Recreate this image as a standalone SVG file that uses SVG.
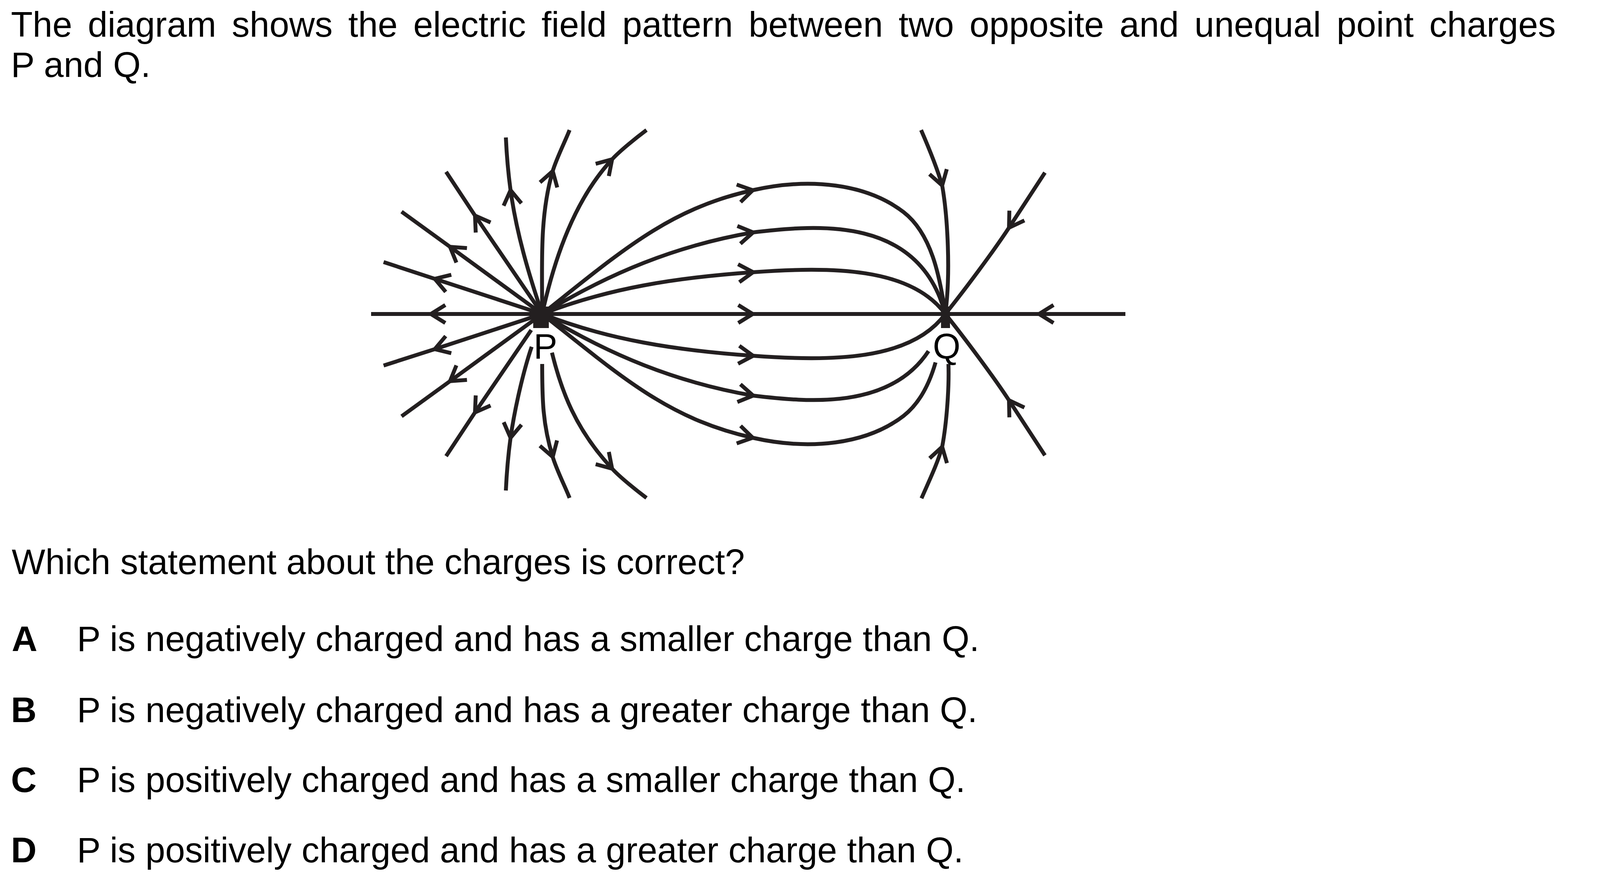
<svg xmlns="http://www.w3.org/2000/svg" width="4201" height="2261" viewBox="0 0 4201 2261">
<style>
.t{font-family:"Liberation Sans",Arial,sans-serif;font-size:91px;fill:#000}
.b{font-weight:bold}
.ln{fill:none;stroke:#231f20;stroke-width:10;stroke-linecap:butt;stroke-linejoin:round}
.a{marker-end:url(#arr)}
.chg{fill:#231f20}
</style>
<defs>
<marker id="arr" markerUnits="userSpaceOnUse" markerWidth="90" markerHeight="90" viewBox="-45 -45 90 90" refX="0" refY="0" orient="auto" overflow="visible">
<path d="M-37,-23 L0,0 L-37,23" fill="none" stroke="#231f20" stroke-width="10" stroke-linejoin="miter"/>
</marker>
</defs>
<rect width="4201" height="2261" fill="#fff"/>
<g id="question">
<text class="t" x="28" y="94" word-spacing="14.7">The diagram shows the electric field pattern between two opposite and unequal point charges</text>
<text class="t" x="28" y="197">P and Q.</text>
<text class="t" x="30" y="1470">Which statement about the charges is correct?</text>
</g>
<g id="connectors">
<path class="ln" d="M950,804 H2881"/>
<path class="ln a" d="M1150,804 L1103,804"/>
<path class="ln a" d="M1880,804 L1927,804"/>
<path class="ln a" d="M2710,804 L2660,804"/>
<path class="ln a" d="M1388,804 L1113,714"/><path class="ln" d="M1113,714 L982,671"/>
<path class="ln a" d="M1388,804 L1152,632"/><path class="ln" d="M1152,632 L1028,542"/>
<path class="ln a" d="M1388,804 L1216,552"/><path class="ln" d="M1216,552 L1142,440"/>
<path class="ln a" d="M1388,804 L1113,894"/><path class="ln" d="M1113,894 L982,936"/>
<path class="ln a" d="M1388,804 L1152,976"/><path class="ln" d="M1152,976 L1028,1066"/>
<path class="ln a" d="M1360,845 L1216,1056"/><path class="ln" d="M1216,1056 L1142,1168"/>
<path class="ln a" d="M1388,804 C1353,700 1322,596 1307,487"/><path class="ln" d="M1307,487 C1301,443 1297,396 1295,352"/>
<path class="ln a" d="M1361,888 C1340,950 1318,1044 1307,1121"/><path class="ln" d="M1307,1121 C1301,1165 1297,1212 1295,1256"/>
<path class="ln a" d="M1388,804 C1388,675 1381,553 1415,438"/><path class="ln" d="M1415,438 C1425,404 1450,355 1458,333"/>
<path class="ln a" d="M1388,932 C1388,1022 1389,1086 1415,1170"/><path class="ln" d="M1415,1170 C1425,1204 1450,1253 1458,1275"/>
<path class="ln a" d="M1388,804 C1420,658 1472,510 1567,408"/><path class="ln" d="M1567,408 C1587,386 1631,351 1655,333"/>
<path class="ln a" d="M1413,903 C1437,1000 1472,1098 1567,1200"/><path class="ln" d="M1567,1200 C1587,1222 1631,1257 1655,1275"/>
<path class="ln a" d="M1388,804 C1593,641 1712,535 1927,487"/><path class="ln" d="M1927,487 C2073,454 2218,470 2313,543 C2384,598 2406,706 2420,804"/>
<path class="ln a" d="M1388,804 C1560,699 1731,629 1928,595"/><path class="ln" d="M1928,595 C2096,575 2353,553 2420,804"/>
<path class="ln a" d="M1388,804 C1557,738 1729,711 1928,697"/><path class="ln" d="M1928,697 C2127,683 2331,683 2420,804"/>
<path class="ln a" d="M1388,804 C1557,870 1729,897 1928,911"/><path class="ln" d="M1928,911 C2127,925 2331,925 2420,804"/>
<path class="ln a" d="M1388,804 C1560,909 1731,979 1928,1013"/><path class="ln" d="M1928,1013 C2071,1030 2278,1049 2377,899"/>
<path class="ln a" d="M1388,804 C1593,967 1712,1073 1927,1121"/><path class="ln" d="M1927,1121 C2073,1154 2218,1138 2313,1065 C2354,1033 2379,984 2395,928"/>
<path class="ln a" d="M2358,333 C2378,379 2398,427 2412,475"/><path class="ln" d="M2412,475 C2426,555 2434,700 2420,804"/>
<path class="ln a" d="M2359,1276 C2379,1230 2400,1187 2412,1144"/><path class="ln" d="M2412,1144 C2424,1080 2430,990 2428,932"/>
<path class="ln a" d="M2675,442 L2583,583"/><path class="ln" d="M2583,583 C2545,641 2470,742 2420,804"/>
<path class="ln a" d="M2675,1166 L2583,1025"/><path class="ln" d="M2583,1025 C2545,967 2470,866 2420,804"/>
</g>
<g id="charge-P">
<rect class="chg" x="1365" y="785" width="40" height="55"/>
<text class="t" x="1366" y="918">P</text>
</g>
<g id="charge-Q">
<rect class="chg" x="2409" y="785" width="23" height="55"/>
<text class="t" x="2388" y="918">Q</text>
</g>
<g id="option-A">
<text class="t b" x="30" y="1667">A</text>
<text class="t" x="197" y="1667">P is negatively charged and has a smaller charge than Q.</text>
</g>
<g id="option-B">
<text class="t b" x="28" y="1849">B</text>
<text class="t" x="197" y="1849">P is negatively charged and has a greater charge than Q.</text>
</g>
<g id="option-C">
<text class="t b" x="28" y="2028">C</text>
<text class="t" x="197" y="2028">P is positively charged and has a smaller charge than Q.</text>
</g>
<g id="option-D">
<text class="t b" x="28" y="2208">D</text>
<text class="t" x="197" y="2208">P is positively charged and has a greater charge than Q.</text>
</g>
</svg>
